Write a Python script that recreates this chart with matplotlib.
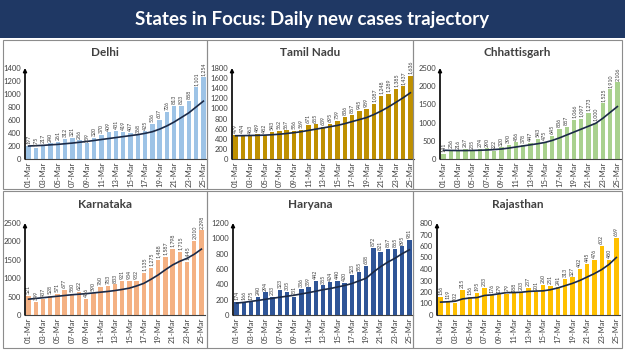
import matplotlib
matplotlib.use("Agg")
import matplotlib.pyplot as plt
from matplotlib.patches import Rectangle

plt.rcParams['font.family'] = ['Lato', 'DejaVu Sans']

dates = [f"{d:02d}-Mar" for d in range(1, 26)]

delhi = [197, 175, 217, 240, 261, 312, 321, 286, 239, 320, 370, 409, 431, 419, 407,
         368, 425, 536, 607, 726, 813, 823, 888, 1101, 1254]
delhi_trend = [200, 205, 210, 218, 225, 235, 245, 258, 270, 285, 300, 315, 330, 345, 360,
               375, 395, 420, 460, 510, 570, 640, 710, 800, 890]

tamil = [479, 474, 463, 489, 482, 543, 562, 567, 556, 569, 671, 685, 639, 695, 759,
         836, 867, 945, 989, 1087, 1248, 1289, 1385, 1437, 1636]
tamil_trend = [460, 462, 465, 468, 472, 480, 490, 505, 520, 540, 565, 590, 615, 640, 665,
               700, 740, 780, 820, 880, 950, 1030, 1120, 1210, 1310]

chh = [141, 256, 216, 267, 235, 274, 290, 222, 320, 390, 456, 378, 447, 543, 475,
       645, 836, 887, 1066, 1097, 1273, 1000, 1525, 1910, 2106]
chh_trend = [240, 235, 232, 232, 235, 240, 248, 260, 275, 300, 330, 360, 390, 420, 455,
             510, 580, 660, 740, 820, 900, 980, 1120, 1280, 1440]

kar = [521, 349, 437, 528, 571, 677, 580, 622, 436, 590, 760, 783, 833, 921, 934,
       932, 1135, 1275, 1488, 1587, 1798, 1715, 1445, 2010, 2298]
kar_trend = [430, 450, 470, 490, 510, 530, 550, 565, 580, 600, 620, 640, 665, 695, 730,
             790, 860, 970, 1090, 1230, 1360, 1460, 1540, 1650, 1790]

har = [174, 166, 175, 240, 294, 233, 323, 305, 231, 336, 359, 442, 385, 424, 440,
       420, 523, 555, 638, 872, 821, 867, 865, 895, 981]
har_trend = [155, 165, 178, 190, 205, 218, 232, 245, 258, 275, 292, 310, 330, 345, 365,
             385, 410, 445, 480, 560, 630, 690, 740, 800, 850]

raj = [156, 119, 102, 215, 156, 195, 233, 176, 179, 179, 188, 203, 237, 201, 260,
       251, 241, 313, 327, 402, 445, 476, 602, 480, 669]
raj_trend = [112, 115, 120, 140, 148, 152, 170, 175, 185, 195, 195, 198, 205, 208, 210,
             220, 235, 255, 275, 300, 330, 360, 395, 440, 500]

panels = [
    ("Delhi", delhi, delhi_trend, "#9DC3E6", 1400, 200, (25, 207, 68, 159), (3, 40, 204, 149)),
    ("Tamil Nadu", tamil, tamil_trend, "#BF9000", 1800, 200, (232, 414, 68, 159), (207, 40, 206, 149)),
    ("Chhattisgarh", chh, chh_trend, "#A9D18E", 2500, 500, (440, 621, 68, 159), (413, 40, 209, 149)),
    ("Karnataka", kar, kar_trend, "#F4B183", 2500, 500, (25, 205, 223, 315), (3, 191, 204, 157)),
    ("Haryana", har, har_trend, "#2F5597", 1200, 200, (233, 413, 223, 315), (207, 191, 206, 157)),
    ("Rajasthan", raj, raj_trend, "#FFC000", 800, 100, (437, 620, 223, 315), (413, 191, 209, 157)),
]

W, H = 625, 351
fig = plt.figure(figsize=(W / 100, H / 100), dpi=100)
fig.patch.set_facecolor("white")

# header bar
fig.patches.append(Rectangle((0, 1 - 38 / H), 1, 38 / H, transform=fig.transFigure,
                             facecolor="#1F3864", edgecolor="none", zorder=0))
fig.text(0.5, 1 - 19 / H, "States in Focus: Daily new cases trajectory", color="white",
         fontsize=13.5, fontweight="bold", ha="center", va="center")

for name, vals, trend, color, ymax, step, (l, r, t, b), (px, py, pw, ph) in panels:
    fig.patches.append(Rectangle((px / W, 1 - (py + ph) / H), pw / W, ph / H,
                                 transform=fig.transFigure, facecolor="none",
                                 edgecolor="#8C8C8C", linewidth=0.8, zorder=0))
    fig.text((px + pw / 2) / W, 1 - (py + 13) / H, name, fontsize=8.5, fontweight="bold",
             color="#404040", ha="center", va="center")
    ax = fig.add_axes([l / W, 1 - b / H, (r - l) / W, (b - t) / H])
    x = list(range(len(vals)))
    ax.bar(x, vals, width=0.6, color=color, zorder=2)
    ax.plot(x, trend, color="#1B2A47", linewidth=1.2, zorder=3)
    for xi, v in zip(x, vals):
        ax.text(xi, v + ymax * 0.02, f"{v:,}", rotation=90, fontsize=3.8,
                color="#404040", ha="center", va="bottom", zorder=4)
    ax.set_xlim(-0.5, len(vals) - 0.5)
    ax.set_ylim(0, ymax)
    ax.set_yticks(range(0, ymax + 1, step))
    ax.set_xticks(x[::2])
    ax.set_xticklabels(dates[::2], rotation=90, fontsize=5.5, color="#404040")
    ax.tick_params(axis="y", labelsize=5.5, labelcolor="#404040", length=0, pad=3)
    ax.tick_params(axis="x", length=0, pad=2)
    for s in ["top", "right", "left"]:
        ax.spines[s].set_visible(False)
    ax.spines["bottom"].set_color("#404040")
    ax.spines["bottom"].set_linewidth(0.8)
    ax.annotate("", xy=(0, 1.0), xytext=(0, 0), xycoords="axes fraction",
                arrowprops=dict(arrowstyle="-|>", color="black", lw=1.2,
                                mutation_scale=5, shrinkA=0, shrinkB=0), zorder=5)
    ax.set_facecolor("none")

fig.savefig("out.png", dpi=100)
